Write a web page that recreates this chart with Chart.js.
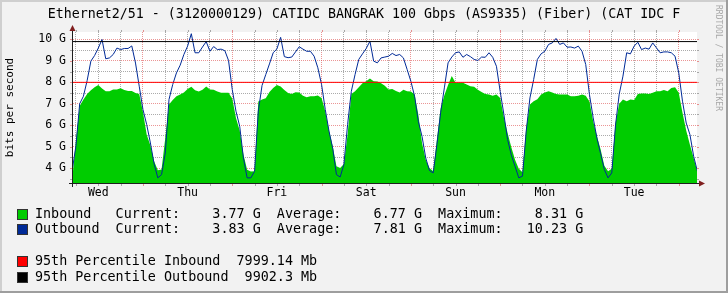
<!DOCTYPE html>
<html>
<head>
<meta charset="utf-8">
<script src="https://cdn.jsdelivr.net/npm/chart.js@4.4.1/dist/chart.umd.min.js"></script>
<style>
  html, body { margin: 0; padding: 0; background: #f2f2f2; }
  #wrap { width: 728px; height: 293px; }
</style>
</head>
<body>
<div id="wrap"><canvas id="trafficChart" width="728" height="293"></canvas></div>
<script>
// Weekly traffic graph, Ethernet2/51 (values in Gbit/s, one sample per hour)
const title = 'Ethernet2/51 - (3120000129) CATIDC BANGRAK 100 Gbps (AS9335) (Fiber) (CAT IDC F';
const dayLabels = ['Wed', 'Thu', 'Fri', 'Sat', 'Sun', 'Mon', 'Tue'];
const yTicks = [4, 5, 6, 7, 8, 9, 10];
const firstHour = 5;          // first sample = Wed 05:00
const hourMin = 5.2, hourMax = 172.9;

const inbound = [
  3.5, 5.3, 6.9, 7.2, 7.46, 7.63, 7.77, 7.87, 7.71, 7.58, 7.58, 7.66, 7.66, 7.72, 7.64, 7.6, 7.6, 7.5, 7.46,
  6.62, 5.56, 5.05, 4.31, 3.9, 3.93, 5.4, 6.96, 7.18, 7.35, 7.43, 7.52, 7.69, 7.79, 7.63, 7.57, 7.65, 7.8, 7.66, 7.65, 7.57, 7.51, 7.51, 7.51,
  7.24, 6.34, 5.75, 4.63, 3.92, 3.84, 3.85, 7.1, 7.2, 7.26, 7.55, 7.74, 7.88, 7.8, 7.64, 7.5, 7.46, 7.54, 7.52, 7.37, 7.3, 7.35, 7.35, 7.38,
  7.27, 6.65, 5.75, 5.02, 4.08, 4.0, 4.19, 5.56, 7.46, 7.58, 7.77, 7.96, 8.05, 8.18, 8.05, 8.04, 7.96, 7.84, 7.66, 7.69, 7.6, 7.52, 7.65, 7.58,
  7.57, 7.43, 6.5, 5.17, 4.39, 4.0, 3.85, 5.33, 6.78, 7.4, 7.87, 8.3, 7.98, 7.98, 7.98, 7.9, 7.82, 7.79, 7.65, 7.55, 7.46, 7.43, 7.37, 7.43,
  7.27, 6.37, 5.64, 4.97, 4.39, 3.97, 3.8, 5.87, 6.96, 7.12, 7.21, 7.43, 7.52, 7.58, 7.52, 7.46, 7.43, 7.43, 7.43, 7.35, 7.35, 7.37, 7.43, 7.37,
  7.1, 6.18, 5.5, 4.86, 4.11, 3.85, 3.97, 6.1, 7.0, 7.2, 7.12, 7.2, 7.18, 7.46, 7.48, 7.48, 7.45, 7.51, 7.58, 7.58, 7.64, 7.58, 7.74, 7.77,
  7.51, 6.58, 5.75, 5.09, 4.47, 3.85
];
const outbound = [
  3.9, 5.05, 7.0, 7.35, 8.08, 8.99, 9.25, 9.6, 10.0, 9.1, 9.14, 9.3, 9.6, 9.53, 9.58, 9.58, 9.7, 8.9, 7.82,
  6.73, 6.03, 5.17, 4.19, 3.54, 3.69, 4.7, 7.2, 7.9, 8.44, 8.8, 9.3, 9.69, 10.27, 9.38, 9.38, 9.65, 9.9, 9.45, 9.67, 9.53, 9.55, 9.48, 9.02,
  7.66, 6.65, 5.95, 4.47, 3.54, 3.54, 3.85, 6.65, 7.85, 8.36, 8.86, 9.38, 9.56, 10.1, 9.2, 9.15, 9.18, 9.42, 9.66, 9.55, 9.45, 9.45, 9.22, 8.68,
  7.9, 6.73, 5.72, 4.91, 3.69, 3.58, 4.16, 6.03, 7.58, 8.36, 9.07, 9.33, 9.58, 9.92, 8.99, 8.91, 9.14, 9.18, 9.22, 9.35, 9.25, 9.3, 9.14, 8.6,
  8.05, 7.35, 6.18, 5.48, 4.47, 3.88, 3.77, 5.09, 6.58, 7.74, 8.91, 9.18, 9.38, 9.42, 9.17, 9.3, 9.2, 9.07, 9.02, 9.18, 9.17, 9.38, 9.17, 8.75,
  7.58, 6.5, 5.33, 4.6, 4.08, 3.54, 3.62, 5.72, 7.27, 8.13, 9.07, 9.33, 9.45, 9.77, 9.84, 10.05, 9.77, 9.84, 9.64, 9.65, 9.6, 9.69, 9.45, 8.83,
  7.43, 6.34, 5.4, 4.66, 3.93, 3.54, 3.77, 6.0, 7.45, 8.29, 9.38, 9.33, 9.69, 9.87, 9.53, 9.6, 9.55, 9.84, 9.61, 9.38, 9.42, 9.42, 9.38, 9.22,
  8.44, 7.12, 6.1, 5.56, 4.55, 3.85
];
const pct95In = 7.99914;   // 7999.14 Mb
const pct95Out = 9.9023;   // 9902.3 Mb

const stats = [
  ['Inbound', '3.77 G', '6.77 G', '8.31 G', '#00cc00'],
  ['Outbound', '3.83 G', '7.81 G', '10.23 G', '#002a97']
];
const percentiles = [
  ['95th Percentile Inbound', '7999.14 Mb', '#ff0000'],
  ['95th Percentile Outbound', '9902.3 Mb', '#000000']
];

const MONO = '"DejaVu Sans Mono", monospace';
const majorGrid = 'rgba(222, 79, 79, 0.6)';
const minorGrid = 'rgba(143, 143, 143, 0.75)';

const toPoints = arr => arr.map((v, i) => ({ x: firstHour + i, y: v }));
const gridHours = [];
for (let h = 6; h < hourMax; h += 6) gridHours.push(h);
const gridLevels = [];
for (let g = 3.5; g < 10.35; g += 0.5) gridLevels.push(g);

const rrdLook = {
  id: 'rrdLook',
  beforeDraw(chart) {
    const { ctx, width, height, chartArea: a } = chart;
    ctx.save();
    ctx.fillStyle = '#f2f2f2';
    ctx.fillRect(0, 0, width, height);
    ctx.fillStyle = '#cfcfcf';
    ctx.fillRect(0, 0, width, 2);
    ctx.fillRect(0, 0, 2, height);
    ctx.fillStyle = '#9e9e9e';
    ctx.fillRect(0, height - 2, width, 2);
    ctx.fillRect(width - 2, 0, 2, height);
    ctx.fillStyle = '#ffffff';
    ctx.fillRect(a.left, a.top, a.right - a.left, a.bottom - a.top);
    ctx.restore();
  },
  afterDraw(chart) {
    const { ctx, chartArea: a, scales } = chart;
    const xs = scales.x, ys = scales.y;
    ctx.save();

    // little grid ticks outside the canvas
    ctx.lineWidth = 1;
    gridHours.forEach(h => {
      const x = Math.round(xs.getPixelForValue(h)) + 0.5;
      ctx.strokeStyle = h % 24 === 0 ? majorGrid : minorGrid;
      ctx.beginPath();
      ctx.moveTo(x, a.bottom); ctx.lineTo(x, a.bottom + 3);
      ctx.moveTo(x, a.top - 2); ctx.lineTo(x, a.top);
      ctx.stroke();
    });
    gridLevels.forEach(g => {
      const y = Math.round(ys.getPixelForValue(g)) + 0.5;
      ctx.strokeStyle = g % 1 === 0 ? majorGrid : minorGrid;
      ctx.beginPath();
      ctx.moveTo(a.left - 3, y); ctx.lineTo(a.left, y);
      ctx.moveTo(a.right, y); ctx.lineTo(a.right + 2, y);
      ctx.stroke();
    });

    // axes + arrows
    const ox = a.left - 0.5, oy = a.bottom + 0.5;
    ctx.strokeStyle = '#1f1f1f';
    ctx.beginPath();
    ctx.moveTo(a.left - 4, oy); ctx.lineTo(a.right + 4, oy);
    ctx.moveTo(ox, a.bottom + 4); ctx.lineTo(ox, a.top - 4);
    ctx.stroke();
    ctx.fillStyle = '#801f1f';
    ctx.beginPath();
    ctx.moveTo(a.right + 2, oy - 3); ctx.lineTo(a.right + 2, oy + 3); ctx.lineTo(a.right + 8, oy);
    ctx.closePath(); ctx.fill();
    ctx.beginPath();
    ctx.moveTo(ox - 3, a.top - 1); ctx.lineTo(ox + 3, a.top - 1); ctx.lineTo(ox, a.top - 7);
    ctx.closePath(); ctx.fill();

    // axis labels
    ctx.fillStyle = '#000';
    ctx.font = '11.5px ' + MONO;
    ctx.textAlign = 'right';
    ctx.textBaseline = 'middle';
    yTicks.forEach(v => ctx.fillText(v + ' G', a.left - 7, ys.getPixelForValue(v)));
    ctx.textAlign = 'center';
    ctx.textBaseline = 'alphabetic';
    dayLabels.forEach((d, i) => ctx.fillText(d, xs.getPixelForValue(12 + 24 * i), 196));

    // vertical unit label
    ctx.save();
    ctx.translate(13, (a.top + a.bottom) / 2);
    ctx.rotate(-Math.PI / 2);
    ctx.font = '11px ' + MONO;
    ctx.textAlign = 'center';
    ctx.fillText('bits per second', 0, 0);
    ctx.restore();

    // watermark
    ctx.save();
    ctx.translate(716, 5);
    ctx.rotate(Math.PI / 2);
    ctx.font = '8px ' + MONO;
    ctx.fillStyle = '#a8a8a8';
    ctx.textAlign = 'left';
    ctx.fillText('RRDTOOL / TOBI OETIKER', 0, 0);
    ctx.restore();

    // title
    ctx.font = '13.3px ' + MONO;
    ctx.textAlign = 'center';
    ctx.fillText(title, 364, 18);

    // legend
    ctx.font = '13.4px ' + MONO;
    ctx.textAlign = 'left';
    const rowsY = [218, 233, 265, 281];
    stats.forEach((s, i) => {
      const line = s[0].padEnd(10) + 'Current:' + s[1].padStart(10) +
        '  Average:' + s[2].padStart(10) + '  Maximum:' + s[3].padStart(10);
      drawKey(ctx, rowsY[i], s[4]);
      ctx.fillStyle = '#000';
      ctx.fillText(line, 35, rowsY[i]);
    });
    percentiles.forEach((p, i) => {
      drawKey(ctx, rowsY[i + 2], p[2]);
      ctx.fillStyle = '#000';
      ctx.fillText(p[0] + '  ' + p[1], 35, rowsY[i + 2]);
    });
    ctx.restore();
  }
};

function drawKey(ctx, baseline, color) {
  ctx.fillStyle = color;
  ctx.fillRect(18, baseline - 8, 9, 9);
  ctx.strokeStyle = '#333';
  ctx.lineWidth = 1;
  ctx.strokeRect(17.5, baseline - 8.5, 10, 10);
}

new Chart(document.getElementById('trafficChart').getContext('2d'), {
  type: 'line',
  data: {
    datasets: [
      {
        label: '95th Percentile Outbound',
        data: [{ x: hourMin, y: pct95Out }, { x: hourMax, y: pct95Out }],
        borderColor: '#000000', borderWidth: 1, pointRadius: 0, order: 1
      },
      {
        label: '95th Percentile Inbound',
        data: [{ x: hourMin, y: pct95In }, { x: hourMax, y: pct95In }],
        borderColor: '#ff0000', borderWidth: 1, pointRadius: 0, order: 2
      },
      {
        label: 'Outbound',
        data: toPoints(outbound),
        borderColor: '#002a97', borderWidth: 1, pointRadius: 0, order: 3
      },
      {
        label: 'Inbound',
        data: toPoints(inbound),
        borderWidth: 0, borderColor: '#00cc00', backgroundColor: '#00cc00',
        fill: 'start', pointRadius: 0, order: 4
      }
    ]
  },
  options: {
    responsive: false,
    animation: false,
    events: [],
    layout: { padding: { left: 73, right: 31, top: 32, bottom: 110 } },
    plugins: { legend: { display: false }, tooltip: { enabled: false } },
    scales: {
      x: {
        type: 'linear', min: hourMin, max: hourMax,
        afterBuildTicks: s => { s.ticks = gridHours.map(v => ({ value: v })); },
        afterFit: s => { s.height = 0; },
        ticks: { display: false },
        border: { display: false, dash: [1, 1] },
        grid: {
          drawTicks: false,
          color: c => (c.tick.value % 24 === 0 ? majorGrid : minorGrid)
        }
      },
      y: {
        min: 3.3, max: 10.35,
        afterBuildTicks: s => { s.ticks = gridLevels.map(v => ({ value: v })); },
        afterFit: s => { s.width = 0; },
        ticks: { display: false },
        border: { display: false, dash: [1, 1] },
        grid: {
          drawTicks: false,
          color: c => (c.tick.value % 1 === 0 ? majorGrid : minorGrid)
        }
      }
    }
  },
  plugins: [rrdLook]
});
</script>
</body>
</html>
